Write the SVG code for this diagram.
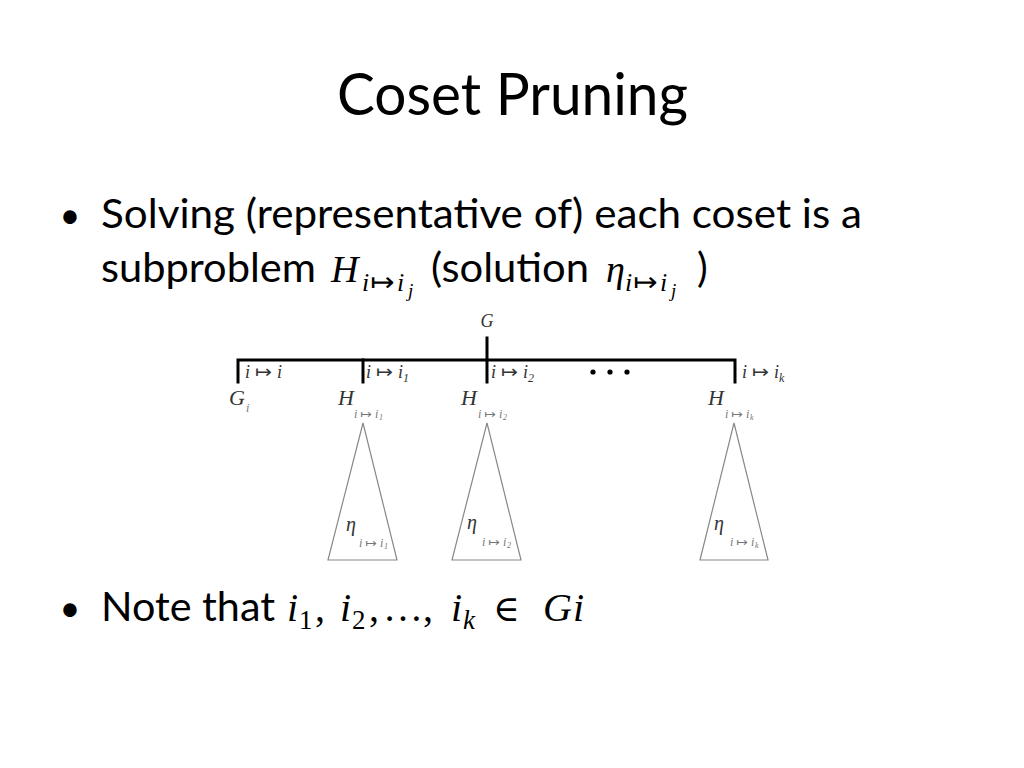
<svg xmlns="http://www.w3.org/2000/svg" width="1024" height="768" viewBox="0 0 1024 768">
<style>
.sans{font-family:Lato,"Open Sans","Liberation Sans",sans-serif;fill:#000}
.m{font-family:"Liberation Serif","DejaVu Serif",serif;font-style:italic;fill:#000}
.up{font-family:"Liberation Serif","DejaVu Serif",serif;fill:#000}
.ar{font-family:"DejaVu Sans",sans-serif;fill:#000}
.d{font-family:"Liberation Serif","DejaVu Serif",serif;font-style:italic;fill:#333}
.ds{font-family:"Liberation Serif","DejaVu Serif",serif;font-style:italic;fill:#777}
.da{font-family:"DejaVu Sans",sans-serif;fill:#333}
.dsa{font-family:"DejaVu Sans",sans-serif;fill:#777}
.edge{stroke:#000;stroke-width:3;fill:none;stroke-linecap:square}
.tri{stroke:#888;stroke-width:1.2;fill:#fff}
</style>
<rect width="1024" height="768" fill="#fff"/>

<g id="title">
<text class="sans" x="337" y="115" font-size="58" textLength="351" lengthAdjust="spacingAndGlyphs">Coset Pruning</text>
</g>

<g id="bullet1">
<text class="sans" x="70" y="228" font-size="36" text-anchor="middle">•</text>
<text class="sans" x="101" y="228" font-size="40" textLength="761" lengthAdjust="spacingAndGlyphs">Solving (representative of) each coset is a</text>
<text class="sans" x="101" y="282" font-size="40" textLength="215" lengthAdjust="spacingAndGlyphs">subproblem</text>
<text class="m" x="331" y="282" font-size="38">H</text>
<text class="m" x="362" y="291" font-size="26">i</text>
<text class="ar" font-size="26" transform="translate(370,291) scale(1.12,1)">↦</text>
<text class="m" x="397" y="291" font-size="26">i</text>
<text class="m" x="408" y="297" font-size="19">j</text>
<text class="sans" x="431" y="282" font-size="40" textLength="158" lengthAdjust="spacingAndGlyphs">(solution</text>
<text class="m" x="606" y="282" font-size="38">η</text>
<text class="m" x="625" y="291" font-size="26">i</text>
<text class="ar" font-size="26" transform="translate(633,291) scale(1.12,1)">↦</text>
<text class="m" x="660" y="291" font-size="26">i</text>
<text class="m" x="671" y="297" font-size="19">j</text>
<text class="sans" x="697" y="282" font-size="40">)</text>
</g>

<g id="bullet2">
<text class="sans" x="70" y="621" font-size="36" text-anchor="middle">•</text>
<text class="sans" x="101" y="621" font-size="40" textLength="174" lengthAdjust="spacingAndGlyphs">Note that</text>
<text class="m" x="287" y="621" font-size="40">i</text>
<text class="up" x="299" y="629" font-size="27">1</text>
<text class="up" x="315" y="621" font-size="40">,</text>
<text class="m" x="340" y="621" font-size="40">i</text>
<text class="up" x="352" y="629" font-size="27">2</text>
<text class="up" x="369" y="621" font-size="40">,</text>
<text class="up" x="383" y="621" font-size="40">…</text>
<text class="up" x="423" y="621" font-size="40">,</text>
<text class="m" x="451" y="621" font-size="40">i</text>
<text class="m" x="463" y="629" font-size="27">k</text>
<text class="up" x="493" y="621" font-size="36" font-family="DejaVu Serif">∈</text>
<text class="m" x="543" y="621" font-size="40">G</text>
<text class="m" x="573" y="621" font-size="40">i</text>
</g>

<g id="connectors">
<polyline class="edge" points="238,382 238,360 735,360 735,382"/>
<line class="edge" x1="363" y1="360" x2="363" y2="382"/>
<line class="edge" x1="487" y1="338" x2="487" y2="382"/>
</g>

<g id="edge-labels">
<g transform="translate(245,378)">
<text class="d" x="0" y="0" font-size="18">i</text>
<text class="da" font-size="18" transform="translate(10,0) scale(1.12,1)">↦</text>
<text class="d" x="32" y="0" font-size="18">i</text>
</g>
<g transform="translate(366,378)">
<text class="d" x="0" y="0" font-size="18">i</text>
<text class="da" font-size="18" transform="translate(10,0) scale(1.12,1)">↦</text>
<text class="d" x="32" y="0" font-size="18">i</text>
<text class="d" x="37" y="4" font-size="12" font-style="normal">1</text>
</g>
<g transform="translate(491,378)">
<text class="d" x="0" y="0" font-size="18">i</text>
<text class="da" font-size="18" transform="translate(10,0) scale(1.12,1)">↦</text>
<text class="d" x="32" y="0" font-size="18">i</text>
<text class="d" x="37" y="4" font-size="12" font-style="normal">2</text>
</g>
<g transform="translate(742,378)">
<text class="d" x="0" y="0" font-size="18">i</text>
<text class="da" font-size="18" transform="translate(10,0) scale(1.12,1)">↦</text>
<text class="d" x="32" y="0" font-size="18">i</text>
<text class="d" x="37" y="4" font-size="12">k</text>
</g>
<circle cx="593" cy="372" r="2.6" fill="#000"/>
<circle cx="610" cy="372" r="2.6" fill="#000"/>
<circle cx="627" cy="372" r="2.6" fill="#000"/>
</g>

<g id="node-G">
<text class="d" x="487" y="327" font-size="18" text-anchor="middle">G</text>
</g>

<g id="node-Gi">
<text class="d" x="229" y="405" font-size="22">G</text>
<text class="ds" x="246" y="412" font-size="12">i</text>
</g>

<g id="node-H1">
<text class="d" x="338" y="405" font-size="22">H</text>
<g transform="translate(354,418)">
<text class="ds" font-size="12">i</text>
<text class="dsa" font-size="12" transform="translate(6,0) scale(1.15,1)">↦</text>
<text class="ds" x="21" font-size="12">i</text>
<text class="ds" x="25" y="2" font-size="8" font-style="normal">1</text>
</g>
<polygon class="tri" points="363,423 328,560 397,560"/>
<text class="d" x="346" y="531" font-size="20">η</text>
<g transform="translate(359,547)">
<text class="ds" font-size="12">i</text>
<text class="dsa" font-size="12" transform="translate(6,0) scale(1.15,1)">↦</text>
<text class="ds" x="21" font-size="12">i</text>
<text class="ds" x="25" y="2" font-size="8" font-style="normal">1</text>
</g>
</g>

<g id="node-H2">
<text class="d" x="461" y="405" font-size="22">H</text>
<g transform="translate(478,418)">
<text class="ds" font-size="12">i</text>
<text class="dsa" font-size="12" transform="translate(6,0) scale(1.15,1)">↦</text>
<text class="ds" x="21" font-size="12">i</text>
<text class="ds" x="25" y="2" font-size="8" font-style="normal">2</text>
</g>
<polygon class="tri" points="487,423 452,560 521,560"/>
<text class="d" x="467" y="529" font-size="20">η</text>
<g transform="translate(482,546)">
<text class="ds" font-size="12">i</text>
<text class="dsa" font-size="12" transform="translate(6,0) scale(1.15,1)">↦</text>
<text class="ds" x="21" font-size="12">i</text>
<text class="ds" x="25" y="2" font-size="8" font-style="normal">2</text>
</g>
</g>

<g id="node-Hk">
<text class="d" x="708" y="405" font-size="22">H</text>
<g transform="translate(725,418)">
<text class="ds" font-size="12">i</text>
<text class="dsa" font-size="12" transform="translate(6,0) scale(1.15,1)">↦</text>
<text class="ds" x="21" font-size="12">i</text>
<text class="ds" x="25" y="2" font-size="8">k</text>
</g>
<polygon class="tri" points="734,423 700,560 768,560"/>
<text class="d" x="714" y="530" font-size="20">η</text>
<g transform="translate(730,546)">
<text class="ds" font-size="12">i</text>
<text class="dsa" font-size="12" transform="translate(6,0) scale(1.15,1)">↦</text>
<text class="ds" x="21" font-size="12">i</text>
<text class="ds" x="25" y="2" font-size="8">k</text>
</g>
</g>
</svg>
